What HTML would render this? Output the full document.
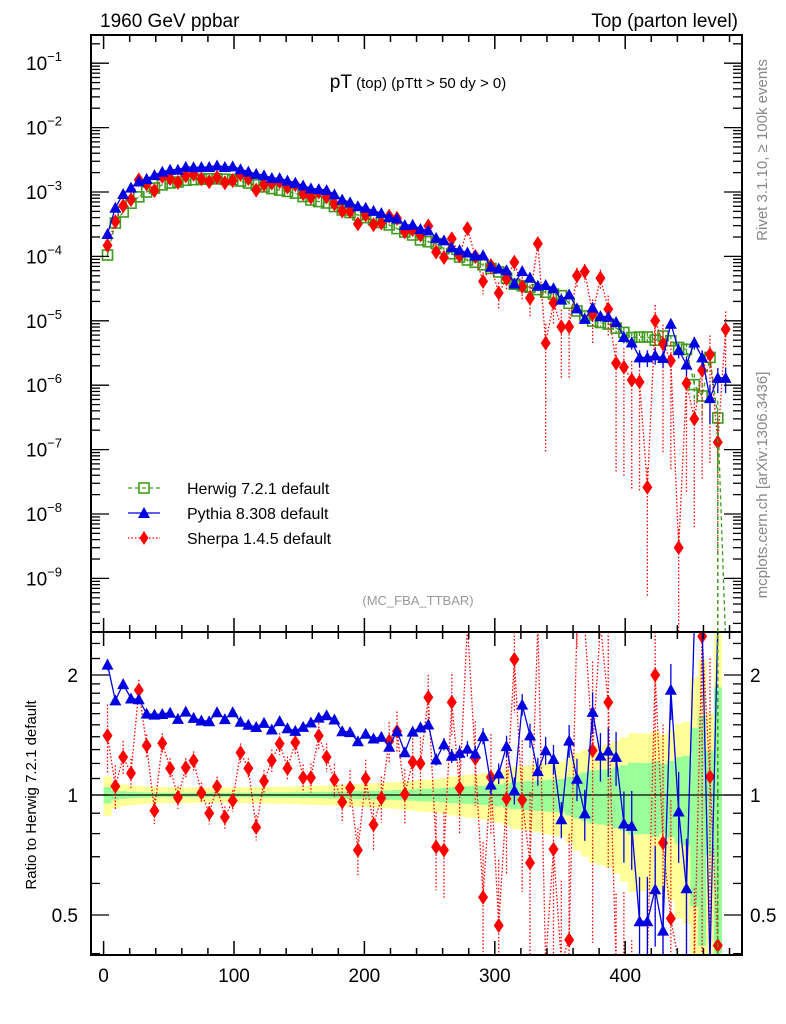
<!DOCTYPE html>
<html><head><meta charset="utf-8">
<style>
html,body{margin:0;padding:0;background:#fff;width:786px;height:1024px;overflow:hidden;}
svg{display:block;font-family:"Liberation Sans",sans-serif;}
</style></head>
<body>
<svg id="chart" width="786" height="1024" viewBox="0 0 786 1024" xmlns="http://www.w3.org/2000/svg">
<defs>
<clipPath id="clipMain"><rect x="91" y="35" width="651" height="597"/></clipPath>
<clipPath id="clipRatio"><rect x="91" y="632" width="651" height="323"/></clipPath>
</defs>
<rect x="0" y="0" width="786" height="1024" fill="#fff"/>
<g id="ratioBand" clip-path="url(#clipRatio)"></g>
<line x1="91" y1="795" x2="742" y2="795" stroke="#000" stroke-width="1.2"/>
<g id="mainSeries" clip-path="url(#clipMain)"></g>
<g id="ratioSeries" clip-path="url(#clipRatio)"></g>
<g id="axes"></g>
<rect x="91" y="35" width="651" height="597" fill="none" stroke="#000" stroke-width="2"/>
<rect x="91" y="632" width="651" height="323" fill="none" stroke="#000" stroke-width="2"/>
<text x="100" y="27" font-size="19">1960 GeV ppbar</text>
<text x="738" y="27" font-size="19" text-anchor="end">Top (parton level)</text>
<text x="418" y="88" text-anchor="middle"><tspan font-size="19">pT</tspan><tspan font-size="15"> (top)  (pTtt &gt; 50 dy &gt; 0)</tspan></text>
<text x="418" y="605" font-size="13" fill="#999" text-anchor="middle">(MC_FBA_TTBAR)</text>
<text transform="translate(767,150) rotate(-90)" font-size="15" fill="#888" text-anchor="middle">Rivet 3.1.10, ≥ 100k events</text>
<text transform="translate(767,485) rotate(-90)" font-size="15" fill="#888" text-anchor="middle">mcplots.cern.ch [arXiv:1306.3436]</text>
<text transform="translate(36,795) rotate(-90)" font-size="15" text-anchor="middle">Ratio to Herwig 7.2.1 default</text>
<g id="legend">
  <g>
    <line x1="128" y1="488" x2="160" y2="488" stroke="#3f9a1e" stroke-width="1.3" stroke-dasharray="4,3"/>
    <rect x="139" y="483" width="10" height="10" fill="none" stroke="#3f9a1e" stroke-width="1.6"/>
    <text x="187" y="494" font-size="16">Herwig 7.2.1 default</text>
  </g>
  <g>
    <line x1="128" y1="513" x2="160" y2="513" stroke="#0000e0" stroke-width="1.3"/>
    <polygon points="144,507 150,518 138,518" fill="#0000e0"/>
    <text x="187" y="519" font-size="16">Pythia 8.308 default</text>
  </g>
  <g>
    <line x1="128" y1="538" x2="160" y2="538" stroke="#ff0000" stroke-width="1.3" stroke-dasharray="1.5,2"/>
    <polygon points="144,531 148.5,538 144,545 139.5,538" fill="#ff0000"/>
    <text x="187" y="544" font-size="16">Sherpa 1.4.5 default</text>
  </g>
</g>
</svg>
<script>
const binWidth = 6;
const herwig = [1.05e-4,3.3e-4,4.9e-4,6.7e-4,8.4e-4,1.0e-3,1.15e-3,1.29e-3,1.38e-3,1.43e-3,
1.52e-3,1.55e-3,1.58e-3,1.6e-3,1.6e-3,1.58e-3,1.55e-3,1.48e-3,1.38e-3,1.29e-3,
1.2e-3,1.13e-3,1.07e-3,1.02e-3,9.6e-4,8.5e-4,7.5e-4,7.1e-4,6.75e-4,5.95e-4,
5.26e-4,4.8e-4,4.4e-4,4.0e-4,3.68e-4,3.36e-4,3.08e-4,2.7e-4,2.39e-4,2.15e-4,
1.8e-4,1.69e-4,1.58e-4,1.32e-4,1.1e-4,9.8e-5,8.8e-5,8.1e-5,7.4e-5,6.5e-5,
5.74e-5,4.6e-5,3.7e-5,3.5e-5,3.33e-5,3.05e-5,2.78e-5,2.6e-5,2.45e-5,1.87e-5,
1.42e-5,1.19e-5,9.9e-6,9.4e-6,8.9e-6,7.7e-6,6.6e-6,5.5e-6,5.6e-6,5.6e-6,
5.0e-6,5.8e-6,4.9e-6,3.85e-6,3.6e-6,1.02e-6,6.8e-7,2.7e-6,3.1e-7,0];
const pythia = [2.23e-4,5.7e-4,9.3e-4,1.17e-3,1.46e-3,1.6e-3,1.83e-3,2.06e-3,2.22e-3,2.22e-3,
2.46e-3,2.42e-3,2.43e-3,2.45e-3,2.58e-3,2.45e-3,2.5e-3,2.26e-3,2.07e-3,1.91e-3,
1.82e-3,1.65e-3,1.64e-3,1.5e-3,1.39e-3,1.26e-3,1.14e-3,1.11e-3,1.07e-3,9.2e-4,
7.6e-4,6.9e-4,6.0e-4,5.7e-4,5.1e-4,4.7e-4,4.07e-4,3.9e-4,3.06e-4,3.1e-4,
2.66e-4,2.54e-4,1.94e-4,1.77e-4,1.38e-4,1.25e-4,1.15e-4,1.03e-4,1.04e-4,6.9e-5,
6.5e-5,6.1e-5,3.8e-5,5.9e-5,4.7e-5,3.5e-5,3.6e-5,3.2e-5,2.13e-5,2.56e-5,
1.56e-5,1.07e-5,1.6e-5,1.18e-5,1.15e-5,9.6e-6,5.6e-6,4.6e-6,2.7e-6,2.7e-6,
2.9e-6,2.65e-6,9e-6,3.5e-6,2.1e-6,4.6e-6,2.7e-6,6.3e-7,1.3e-6,1.3e-6];
const sherpa = [1.48e-4,3.47e-4,6.1e-4,7.6e-4,1.54e-3,1.33e-3,1.05e-3,1.74e-3,1.61e-3,1.41e-3,
1.78e-3,1.89e-3,1.6e-3,1.44e-3,1.68e-3,1.39e-3,1.5e-3,1.89e-3,1.61e-3,1.07e-3,
1.3e-3,1.38e-3,1.44e-3,1.19e-3,1.3e-3,9.4e-4,8.3e-4,1.0e-3,8.4e-4,6.5e-4,
5.05e-4,5.0e-4,3.2e-4,4.4e-4,3.1e-4,3.3e-4,4.2e-4,3.9e-4,2.4e-4,2.6e-4,
2.16e-4,2.97e-4,1.17e-4,9.6e-5,1.88e-4,1.02e-4,2.7e-4,1.0e-4,4.1e-5,7.2e-5,
2.7e-5,4.5e-5,8.1e-5,3.4e-5,2.25e-5,1.58e-4,4.5e-6,1.9e-5,8.1e-6,8.1e-6,
5.0e-5,5.8e-5,1.28e-5,4.6e-5,1.52e-5,2.2e-6,1.9e-6,1.2e-6,1.12e-6,2.6e-8,
1.0e-5,4.4e-6,2.4e-6,3e-9,1.07e-6,3e-7,1.7e-6,3.0e-6,1.3e-7,7.4e-6];
const xTicks = [0,100,200,300,400];
const yDecades = [-1,-2,-3,-4,-5,-6,-7,-8,-9];
const ratioTicks = [2,1,0.5];

const NS = "http://www.w3.org/2000/svg";
function X(v){ return 103.6 + v*1.304; }
function cl(y,a,b){ return Math.max(a, Math.min(b, y)); }
function Y(v){ return cl(192 - (Math.log10(v)+3)*64.4, 30, 640); }
function R(r){ return cl(795 - Math.log10(r)*398.6, 625, 962); }
function mk(tag, attrs, parent){ const e=document.createElementNS(NS,tag); for(const k in attrs) e.setAttribute(k,attrs[k]); parent.appendChild(e); return e; }
const refPeak = 1.6e-3;
function relErr(v, s){ return v>0 ? s*Math.sqrt(refPeak/v) : 0; }

const axes = document.getElementById('axes');
for(let v=0; v<=480; v+=20){
  const major = v%100===0;
  const len = major?14:7;
  const t1 = mk('line',{x1:X(v),y1:955,x2:X(v),y2:955-len,stroke:'#000','stroke-width':1.5},axes);
  
  
  const t2 = mk('line',{x1:X(v),y1:632,x2:X(v),y2:632-len,stroke:'#000','stroke-width':1.5},axes);
  
  
  const t3 = mk('line',{x1:X(v),y1:632,x2:X(v),y2:632+len,stroke:'#000','stroke-width':1.5},axes);
  
  
  const t4 = mk('line',{x1:X(v),y1:35,x2:X(v),y2:35+len,stroke:'#000','stroke-width':1.5},axes);
  
  
}
xTicks.forEach(v=>{
  const t = mk('text',{x:X(v),y:982,'font-size':19,'text-anchor':'middle'},axes);
  t.textContent = v;
  
  
});
for(let d=-10; d<=-1; d++){
  for(let m=1; m<=9; m++){
    const v = m*Math.pow(10,d);
    const yy = 192 - (Math.log10(v)+3)*64.4;
    if(yy<35||yy>632) continue;
    const len = m===1?18:9;
    const a = mk('line',{x1:91,y1:yy,x2:91+len,y2:yy,stroke:'#000','stroke-width':1.3},axes);
    
    
    const b = mk('line',{x1:742,y1:yy,x2:742-len,y2:yy,stroke:'#000','stroke-width':1.3},axes);
    
    
  }
}
yDecades.forEach(d=>{
  const t = mk('text',{x:62,y:Y(Math.pow(10,d))+7,'font-size':19,'text-anchor':'end'},axes);
  
  
  t.textContent = '10';
  const s = mk('tspan',{dy:-9,'font-size':13},t);
  s.textContent = '\u2212'+(-d);
});
[0.4,0.5,0.6,0.7,0.8,0.9,1,1.1,1.2,1.3,1.4,1.5,1.6,1.7,1.8,1.9,2,2.2,2.4].forEach(r=>{
  const y=795 - Math.log10(r)*398.6; if(y<632||y>955) return;
  const major = (r===0.5||r===1||r===2);
  const len = major?18:9;
  const a = mk('line',{x1:91,y1:y,x2:91+len,y2:y,stroke:'#000','stroke-width':1.3},axes);
  
  
  const b = mk('line',{x1:742,y1:y,x2:742-len,y2:y,stroke:'#000','stroke-width':1.3},axes);
  
  
});
ratioTicks.forEach(r=>{
  const a = mk('text',{x:78,y:R(r)+7,'font-size':19,'text-anchor':'end'},axes);
  a.textContent = r;
  
  
  const b = mk('text',{x:750,y:R(r)+7,'font-size':19},axes);
  b.textContent = r;
  
  
});

const band = document.getElementById('ratioBand');
herwig.forEach((h,i)=>{
  if(h<=0) return;
  const e = relErr(h,0.012);
  const x0 = X(i*binWidth), x1 = X((i+1)*binWidth);
  const ey = Math.min(2*e+0.02, 5);
  const lo2 = Math.max(1-ey,0.01);
  const yr = mk('rect',{x:x0,y:R(1+ey),width:x1-x0+0.3,height:R(lo2)-R(1+ey),fill:'#ffff99'},band);
  
  
  const lo1 = Math.max(1-e,0.01);
  const gr = mk('rect',{x:x0,y:R(1+e),width:x1-x0+0.3,height:R(lo1)-R(1+e),fill:'#99ff99'},band);
  
  
});

function drawSeries(vals, color, dash, marker, errScale, parentMain, parentRatio, name){
  const gM = mk('g',{},parentMain);
  
  
  const gR = mk('g',{},parentRatio);
  
  
  let pts=[], rpts=[];
  vals.forEach((v,i)=>{
    const x = X(i*binWidth+binWidth/2);
    const y = v>0 ? Y(v) : 640;
    pts.push(x+','+y);
    const h = herwig[i];
    if(h>0 && v>0){ rpts.push(x+','+R(v/h)); } else if(h>0){ rpts.push(x+','+962); }
  });
  const pl = mk('polyline',{points:pts.join(' '),fill:'none',stroke:color,'stroke-width':1.3,'stroke-dasharray':dash},gM);
  
  
  if(name!=='herwig'){
    const rl = mk('polyline',{points:rpts.join(' '),fill:'none',stroke:color,'stroke-width':1.3,'stroke-dasharray':dash},gR);
    
    
  }
  vals.forEach((v,i)=>{
    if(v<=0) return;
    const x = X(i*binWidth+binWidth/2);
    const e = Math.min(relErr(v,errScale),0.98);
    const y = Y(v);
    const eb = mk('line',{x1:x,y1:Y(v*(1+e)),x2:x,y2:Y(v*(1-e)),stroke:color,'stroke-width':1.3,'stroke-dasharray':dash},gM);
    
    
    drawMarker(gM, marker, x, y, color, name+'-point');
    const h = herwig[i];
    if(h>0 && name!=='herwig'){
      const r = v/h;
      const er = mk('line',{x1:x,y1:R(r*(1+e)),x2:x,y2:R(Math.max(r*(1-e),0.01)),stroke:color,'stroke-width':1.3,'stroke-dasharray':dash},gR);
      
      
      drawMarker(gR, marker, x, R(r), color, name+'-ratio-point');
    }
  });
}
function drawMarker(g, marker, x, y, color, nm){
  let el;
  if(marker==='square'){
    el = mk('rect',{x:x-5,y:y-5,width:10,height:10,fill:'none',stroke:color,'stroke-width':1.6},g);
  } else if(marker==='triangle'){
    el = mk('polygon',{points:`${x},${y-6} ${x+6},${y+5} ${x-6},${y+5}`,fill:color},g);
  } else {
    el = mk('polygon',{points:`${x},${y-7.5} ${x+5},${y} ${x},${y+7.5} ${x-5},${y}`,fill:color},g);
  }
  
  
}
const mainG = document.getElementById('mainSeries');
const ratioG = document.getElementById('ratioSeries');
drawSeries(herwig,'#3f9a1e','4,3','square',0.012,mainG,ratioG,'herwig');
drawSeries(sherpa,'#ff0000','1.5,2','diamond',0.06,mainG,ratioG,'sherpa');
drawSeries(pythia,'#0000e0','none','triangle',0.012,mainG,ratioG,'pythia');
const hl = mk('line',{x1:X(78*binWidth+3),y1:Y(herwig[78]),x2:X(78*binWidth+3),y2:955,stroke:'#3f9a1e','stroke-width':1.5,'stroke-dasharray':'4,3'},ratioG.parentNode);


</script>
</body></html>
